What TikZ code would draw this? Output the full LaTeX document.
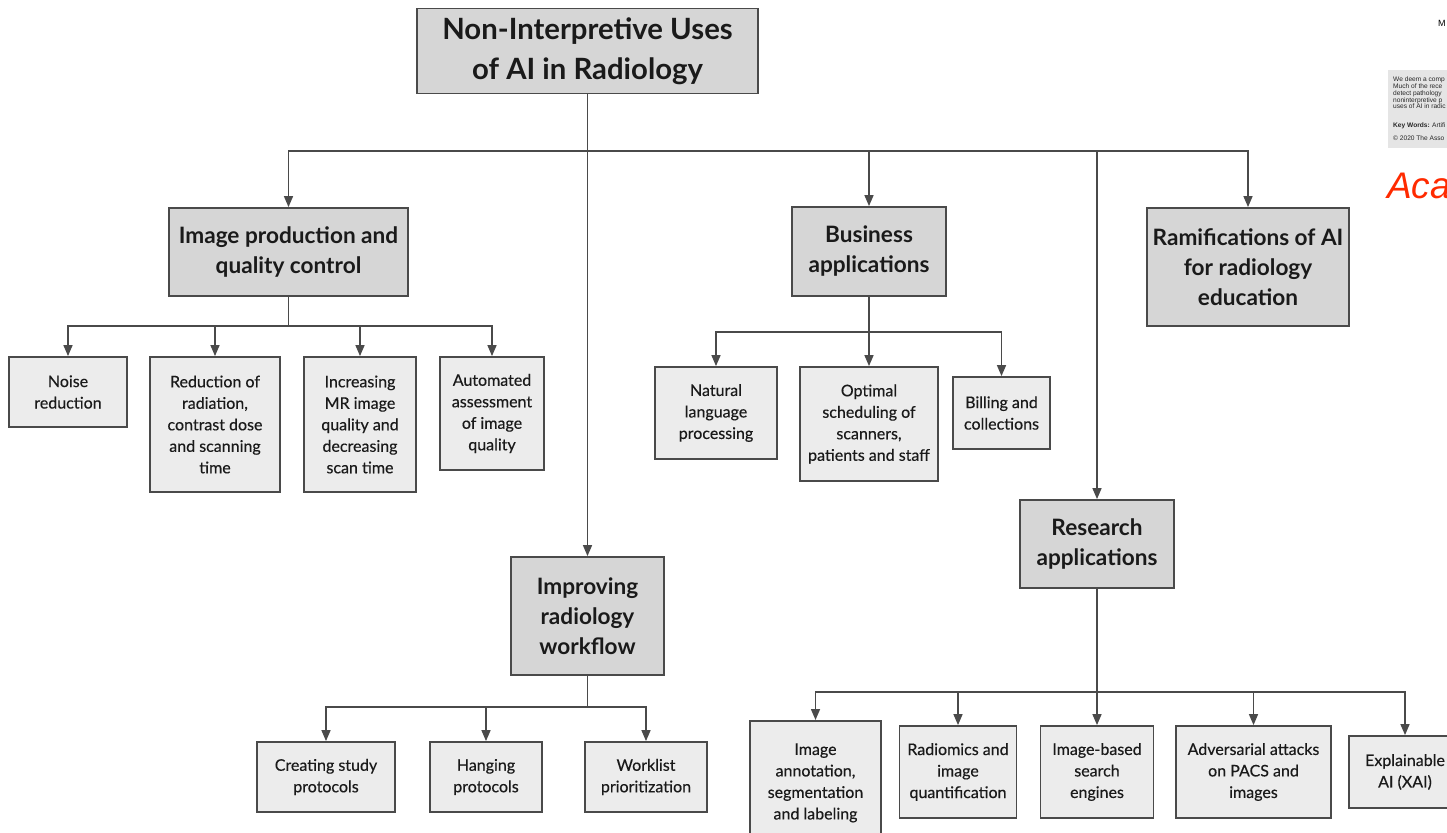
\documentclass[tikz,border=0pt]{standalone}
\usepackage{fontspec}
\setmainfont{Lato}
\newfontfamily\leaffont[FakeBold=0.35]{Lato}
\newfontfamily\helv{Liberation Sans}
\usetikzlibrary{arrows.meta}
\definecolor{hdrfill}{HTML}{D6D6D6}
\definecolor{leaffill}{HTML}{ECECEC}
\definecolor{edge}{HTML}{4A4A4A}
\definecolor{txt}{HTML}{1A1A1A}
\definecolor{accred}{HTML}{FF2A00}
\tikzset{
  base/.style={draw=edge, line width=1.8pt, rectangle, align=center, text=txt, inner sep=2pt},
  rootbox/.style={base, fill=hdrfill, font=\fontsize{29.3}{40}\selectfont\bfseries},
  hdrbox/.style={base, fill=hdrfill, font=\fontsize{22.6}{30}\selectfont\bfseries},
  leafbox/.style={base, fill=leaffill, font=\leaffont\fontsize{16}{21.5}\selectfont},
  link/.style={draw=edge, line width=1.5pt},
  arr/.style={link, -{Triangle[width=9pt,length=11pt]}},
}
\begin{document}
\begin{tikzpicture}[x=1pt,y=-1pt]
\useasboundingbox (0,0) rectangle (1447,832);
\fill[white] (0,0) rectangle (1447,832);
\clip (0,0) rectangle (1447,832);

% root and headers
\node[rootbox, minimum width=341pt, minimum height=85pt] (root) at (587.5,51) {Non-Interpretive Uses\\of AI in Radiology};
\node[hdrbox, minimum width=239pt, minimum height=88pt] (ip) at (288.5,252) {Image production and\\quality control};
\node[hdrbox, minimum width=154pt, minimum height=89pt] (bus) at (869,251.5) {Business\\applications};
\node[hdrbox, minimum width=202pt, minimum height=118pt] (ram) at (1248,267) {Ramifications of AI\\for radiology\\education};
\node[hdrbox, minimum width=153pt, minimum height=118pt] (irw) at (587.5,616) {Improving\\radiology\\workflow};
\node[hdrbox, minimum width=154pt, minimum height=88pt] (res) at (1097,544) {Research\\applications};

% image production leaves
\node[leafbox, minimum width=118pt, minimum height=70pt] (noise) at (68,392) {Noise\\reduction};
\node[leafbox, minimum width=130pt, minimum height=135pt] (red) at (215,424.5) {Reduction of\\radiation,\\contrast dose\\and scanning\\time};
\node[leafbox, minimum width=112pt, minimum height=135pt] (inc) at (360,424.5) {Increasing\\MR image\\quality and\\decreasing\\scan time};
\node[leafbox, minimum width=104pt, minimum height=113pt] (auto) at (492,413.5) {Automated\\assessment\\of image\\quality};

% business leaves
\node[leafbox, minimum width=122pt, minimum height=92pt] (nlp) at (716,413) {Natural\\language\\processing};
\node[leafbox, minimum width=138pt, minimum height=114pt] (opt) at (869,424) {Optimal\\scheduling of\\scanners,\\patients and staff};
\node[leafbox, minimum width=97pt, minimum height=72pt] (bill) at (1001.5,413) {Billing and\\collections};

% workflow leaves
\node[leafbox, minimum width=138pt, minimum height=70pt] (create) at (326,777) {Creating study\\protocols};
\node[leafbox, minimum width=112pt, minimum height=70pt] (hang) at (486,777) {Hanging\\protocols};
\node[leafbox, minimum width=122pt, minimum height=70pt] (work) at (646,777) {Worklist\\prioritization};

% research leaves
\node[leafbox, minimum width=131pt, minimum height=124pt, anchor=north] (ann) at (815.5,720) {Image\\annotation,\\segmentation\\and labeling};
\node[leafbox, minimum width=117pt, minimum height=92pt] (rad) at (958,772) {Radiomics and\\image\\quantification};
\node[leafbox, minimum width=113pt, minimum height=92pt] (ibs) at (1097,772) {Image-based\\search\\engines};
\node[leafbox, minimum width=155pt, minimum height=92pt] (adv) at (1253.5,772) {Adversarial attacks\\on PACS and\\images};
\node[leafbox, minimum width=112pt, minimum height=72pt] (xai) at (1405,772) {Explainable\\AI (XAI)};

% junction coordinates
\coordinate (top) at (587.5,151);
\coordinate (jip) at (288.5,326);
\coordinate (jbus) at (869,332);
\coordinate (jirw) at (587.5,707);
\coordinate (jres) at (1097,692);

% top level connectors
\draw[link] (root.south) -- (top);
\draw[arr] (top) -| (ip.north);
\draw[arr] (top) -| (ram.north);
\draw[arr] (top -| bus.north) -- (bus.north);
\draw[arr] (top -| res.north) -- (res.north);
\draw[arr] (top) -- (irw.north);

% image production
\draw[link] (ip.south) -- (jip);
\draw[arr] (jip) -| (noise.north);
\draw[arr] (jip) -| (red.north);
\draw[arr] (jip) -| (inc.north);
\draw[arr] (jip) -| (auto.north);

% business
\draw[arr] (bus.south) -- (opt.north);
\draw[arr] (jbus) -| (nlp.north);
\draw[arr] (jbus) -| (bill.north);

% workflow
\draw[link] (irw.south) -- (jirw);
\draw[arr] (jirw) -| (create.north);
\draw[arr] (jirw) -| (hang.north);
\draw[arr] (jirw) -| (work.north);

% research
\draw[arr] (res.south) -- (ibs.north);
\draw[arr] (jres) -| (ann.north);
\draw[arr] (jres) -| (rad.north);
\draw[arr] (jres) -| (adv.north);
\draw[arr] (jres) -| (xai.north);

% cropped page fragment at top right
\node[anchor=west, font=\helv\fontsize{9}{10}\selectfont, inner sep=0pt] (pm) at (1438,23) {M};
\node[anchor=north west, fill=black!10, minimum width=70pt, minimum height=78pt, inner sep=0pt] (abs) at (1388,70) {};
\node[anchor=north west, align=left, inner sep=0pt, font=\helv\fontsize{6.6}{6.7}\selectfont, text=black!85] (abstxt) at (1393,77) {We deem a comp\\Much of the rece\\detect pathology\\noninterpretive p\\uses of AI in radic};
\node[anchor=north west, inner sep=0pt, font=\helv\fontsize{6.6}{7}\selectfont, text=black!85] (kw) at (1393,123) {\textbf{Key Words:} Artifi};
\node[anchor=north west, inner sep=0pt, font=\helv\fontsize{6.6}{7}\selectfont, text=black!85] (cp) at (1393,136) {© 2020 The Asso};
\node[anchor=west, inner sep=0pt, font=\helv\itshape\fontsize{37}{40}\selectfont, text=accred] (aca) at (1387,186) {Aca};
\end{tikzpicture}
\end{document}
